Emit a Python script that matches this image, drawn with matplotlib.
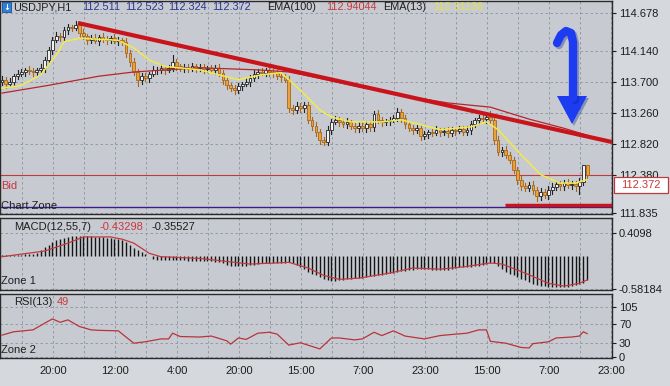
import matplotlib
matplotlib.use("Agg")
import matplotlib.pyplot as plt
from matplotlib.patches import Rectangle, Polygon

plt.rcParams['font.family'] = ['Liberation Sans', 'DejaVu Sans']

# ---- data (USDJPY, H1) ----
first_open = 113.70
closes = [113.726, 113.669, 113.697, 113.782, 113.811, 113.839, 113.868, 113.854, 113.839, 113.868,
          113.896, 114.010, 114.152, 114.294, 114.351, 114.337, 114.436, 114.479, 114.465, 114.507,
          114.394, 114.351, 114.294, 114.323, 114.280, 114.337, 114.308, 114.294, 114.323, 114.280,
          114.294, 114.266, 114.109, 113.981, 113.839, 113.726, 113.782, 113.754, 113.811, 113.868,
          113.868, 113.896, 113.868, 113.896, 113.981, 113.925, 113.896, 113.910, 113.882, 113.925,
          113.896, 113.910, 113.882, 113.896, 113.868, 113.896, 113.825, 113.726, 113.655, 113.612,
          113.583, 113.640, 113.669, 113.697, 113.754, 113.811, 113.839, 113.825, 113.868, 113.839,
          113.825, 113.782, 113.768, 113.726, 113.328, 113.299, 113.356, 113.328, 113.370, 113.157,
          113.072, 112.986, 112.873, 112.844, 113.015, 113.129, 113.157, 113.129, 113.100, 113.129,
          113.072, 113.043, 113.072, 113.043, 113.100, 113.058, 113.242, 113.157, 113.129, 113.143,
          113.157, 113.185, 113.271, 113.185, 113.100, 113.043, 113.015, 113.043, 112.930, 112.958,
          112.986, 112.972, 113.015, 112.986, 113.001, 112.972, 113.015, 113.001, 113.029, 112.986,
          113.015, 113.100, 113.157, 113.185, 113.171, 113.200, 113.157, 112.873, 112.702, 112.731,
          112.660, 112.588, 112.446, 112.304, 112.219, 112.191, 112.233, 112.162, 112.077, 112.134,
          112.091, 112.162, 112.205, 112.247, 112.219, 112.262, 112.233, 112.247, 112.219, 112.276,
          112.511, 112.372]
wick_up = [.05, .04, .06, .03, .05, .04, .03, .05, .04, .03, .06, .04,
           .05, .04, .06, .05, .04, .05, .03, .06, .04, .05, .03, .04,
           .05, .03, .06, .04, .03, .05, .04, .03, .05, .04, .06, .05,
           .04, .05, .03, .05, .04, .06, .03, .04, .10, .05, .03, .04,
           .05, .04, .03, .05, .04, .03, .05, .04, .06, .05, .04, .03,
           .04, .05, .03, .06, .04, .05, .04, .06, .03, .04, .05, .04,
           .03, .04, .05, .04, .06, .05, .04, .05, .04, .06, .05, .04,
           .05, .04, .06, .05, .04, .05, .03, .04, .06, .05, .04, .05,
           .04, .06, .05, .03, .04, .05, .06, .04, .05, .03, .04, .05,
           .04, .05, .03, .04, .05, .03, .04, .05, .04, .03, .05, .04,
           .05, .04, .03, .05, .04, .04, .08, .05, .06, .04, .05, .04,
           .05, .04, .06, .04, .05, .06, .04, .05, .04, .06, .05, .04,
           .05, .04, .06, .05, .04, .06, .012, .012]
wick_dn = [.04, .06, .03, .05, .04, .03, .05, .04, .06, .04, .03, .05,
           .04, .05, .03, .06, .04, .05, .04, .03, .05, .04, .06, .04,
           .03, .05, .04, .06, .04, .03, .05, .04, .06, .05, .04, .08,
           .05, .04, .06, .03, .05, .04, .05, .03, .04, .06, .04, .05,
           .04, .03, .05, .04, .06, .04, .03, .05, .04, .05, .06, .04,
           .05, .04, .06, .03, .05, .04, .05, .03, .04, .05, .06, .04,
           .05, .03, .06, .05, .04, .06, .05, .04, .05, .06, .05, .04,
           .04, .05, .03, .06, .04, .05, .04, .06, .05, .04, .06, .05,
           .05, .04, .06, .04, .05, .03, .04, .06, .05, .04, .06, .04,
           .05, .04, .06, .04, .03, .05, .04, .06, .04, .05, .03, .04,
           .04, .05, .04, .06, .03, .05, .04, .05, .04, .06, .05, .04,
           .04, .06, .05, .04, .05, .06, .07, .05, .04, .06, .05, .04,
           .05, .06, .04, .05, .07, .12, .04, .048]

ema13_idx = [0, 5, 10, 14, 16, 20, 30, 34, 38, 42, 51, 58, 61, 67, 72, 74, 77, 82, 85, 90,
             98, 103, 108, 113, 121, 125, 128, 134, 139, 144, 148, 151]
ema13_val = [113.61, 113.65, 113.80, 114.08, 114.27, 114.32, 114.29, 114.18, 114.01, 113.92,
             113.87, 113.77, 113.73, 113.80, 113.83, 113.73, 113.58, 113.30, 113.20, 113.13,
             113.13, 113.16, 113.09, 113.02, 113.06, 113.13, 113.02, 112.66, 112.38, 112.26,
             112.26, 112.31]
ema100_idx = [0, 12, 25, 34, 51, 66, 74, 82, 92, 103, 115, 126, 136, 145, 151]
ema100_val = [113.54, 113.65, 113.78, 113.84, 113.90, 113.87, 113.84, 113.75, 113.63, 113.51,
              113.40, 113.34, 113.17, 113.04, 112.94]

macd_hist = [0.02, 0.02, 0.02, 0.02, 0.02, 0.02, 0.03, 0.03,
             0.04, 0.05, 0.10, 0.16, 0.19, 0.25, 0.28, 0.30, 0.32, 0.34, 0.35, 0.36,
             0.35, 0.35, 0.35, 0.35, 0.34, 0.34, 0.33, 0.32, 0.32, 0.31, 0.30, 0.28,
             0.25, 0.19, 0.14, 0.11, 0.07, 0.04, 0.01,
             -0.05, -0.06, -0.07, -0.07, -0.07, -0.06, -0.07, -0.07, -0.07, -0.08, -0.08, -0.08,
             -0.08, -0.09, -0.09, -0.09, -0.10, -0.11, -0.13, -0.15, -0.17, -0.18, -0.18, -0.18,
             -0.17, -0.16, -0.15, -0.14, -0.13, -0.13, -0.12, -0.12, -0.12, -0.12, -0.12,
             -0.10, -0.13, -0.16, -0.19, -0.23, -0.28, -0.31, -0.34, -0.37, -0.40, -0.42, -0.44,
             -0.44, -0.43, -0.42, -0.41, -0.40, -0.39, -0.38, -0.38, -0.37, -0.36, -0.35, -0.34,
             -0.33, -0.32, -0.30, -0.29, -0.28, -0.27, -0.26, -0.25, -0.24, -0.23, -0.23, -0.23,
             -0.23, -0.24, -0.24, -0.25, -0.25, -0.24, -0.23, -0.21, -0.20, -0.20, -0.19, -0.19,
             -0.18, -0.17, -0.16, -0.14, -0.12, -0.13, -0.17, -0.22, -0.28, -0.31, -0.34, -0.37,
             -0.40, -0.43, -0.46, -0.49, -0.51, -0.52, -0.53, -0.54, -0.55, -0.55, -0.55, -0.55,
             -0.54, -0.53, -0.51, -0.49, -0.47, -0.43]
signal_idx = [0, 11, 17, 21, 28, 31, 34, 38, 41, 51, 64, 74, 79, 83, 87, 92, 100, 106, 113,
              119, 126, 129, 135, 141, 145, 149, 151]
signal_val = [-0.01, 0.09, 0.23, 0.34, 0.34, 0.30, 0.23, 0.05, -0.01, -0.04, -0.14, -0.11,
              -0.21, -0.34, -0.41, -0.39, -0.30, -0.21, -0.23, -0.19, -0.12, -0.14, -0.30,
              -0.48, -0.53, -0.48, -0.42]

rsi_idx = [0, 3, 8, 11, 13, 15, 17, 20, 23, 25, 30, 34, 37, 41, 43, 44, 46, 51, 54, 58, 59,
           61, 63, 66, 69, 71, 74, 77, 82, 85, 87, 91, 93, 96, 98, 101, 104, 109, 113, 117,
           120, 123, 125, 126, 130, 134, 136, 137, 141, 143, 147, 149, 150, 151]
rsi_val = [46, 53, 57, 71, 80, 73, 78, 64, 57, 56, 55, 29, 32, 38, 38, 50, 43, 42, 44, 34, 27,
           40, 37, 50, 52, 48, 25, 30, 17, 40, 40, 36, 38, 52, 45, 55, 44, 38, 45, 48,
           50, 57, 57, 33, 29, 20, 19, 28, 32, 40, 42, 44, 53, 49]

price_ticks = [114.678, 114.140, 113.700, 113.260, 112.820, 112.380, 111.835]
macd_ticks = [0.4098, -0.58184]
rsi_ticks = [105, 70, 30, 0]
time_labels = ['20:00', '12:00', '4:00', '20:00', '15:00', '7:00', '23:00', '15:00', '7:00', '23:00']

bid = 112.372
chart_zone = 111.916
trend_x, trend_y = [19.6, 157.4], [114.536, 112.844]
support_x, support_y = [129.8, 157.4], [111.942, 111.942]

# ---- figure ----
W, H = 670, 386
fig = plt.figure(figsize=(W / 100, H / 100), dpi=100, facecolor='#d5d8dc')


def box(top, bottom, right=612):
    return [0.0, 1 - bottom / H, right / W, (bottom - top) / H]


def fx(x):
    return x / W


def fy(y):
    return 1 - y / H


panel_bg = '#c7cbd1'
grid_col = '#8b94a1'
dark = '#1e1e1e'
red_txt = '#c8383c'
xlim = (-0.52, 157.4)
label_pos = [13.2 + 16 * k for k in range(len(time_labels))]
grid_pos = [5.2 + 8 * k for k in range(20)]

ax = fig.add_axes(box(1, 214))
ax_m = fig.add_axes(box(218, 290))
ax_r = fig.add_axes(box(294, 358))

for a in (ax, ax_m, ax_r):
    a.set_facecolor(panel_bg)
    a.set_xlim(*xlim)
    a.yaxis.tick_right()
    a.set_xticks(grid_pos)
    a.tick_params(axis='x', length=0, labelbottom=False)
    a.tick_params(axis='y', length=3, direction='out', labelsize=8, colors=dark, pad=2)
    a.grid(True, linestyle=(0, (3, 3)), color=grid_col, lw=0.6)
    for s in a.spines.values():
        s.set_color('#2a2a2a')
        s.set_linewidth(1)

# candles
opens = [first_open] + closes[:-1]
idx = list(range(len(closes)))
for i, o, c, wu, wd in zip(idx, opens, closes, wick_up, wick_dn):
    up = c >= o
    edge = '#222222' if up else '#a8661a'
    face = '#f2f2f2' if up else '#eba23a'
    lo, hi = min(o, c), max(o, c)
    ax.plot([i, i], [lo - wd, hi + wu], color=edge, lw=0.8, zorder=3)
    ax.add_patch(Rectangle((i - 0.36, lo), 0.72, max(hi - lo, 0.006),
                           facecolor=face, edgecolor=edge, lw=0.6, zorder=4))

ax.plot(ema100_idx, ema100_val, color='#b5262c', lw=0.9, zorder=5)
ax.plot(ema13_idx, ema13_val, color='#f2ea4a', lw=1.1, zorder=5)
ax.plot(trend_x, trend_y, color='#c8141a', lw=3, solid_capstyle='butt', zorder=6)
ax.plot(support_x, support_y, color='#c8141a', lw=2.5, solid_capstyle='butt', zorder=6)
ax.axhline(bid, color='#c0393f', lw=0.8, zorder=2)
ax.axhline(chart_zone, color='#3a1e8c', lw=1.0, zorder=2)
ax.set_ylim(111.821, 114.849)
ax.set_yticks(price_ticks)
ax.set_yticklabels([f'{v:.3f}' for v in price_ticks])

# MACD
ax_m.vlines(idx, 0, macd_hist, color='#141414', lw=1.0, zorder=3)
ax_m.plot(signal_idx, signal_val, color='#c0393f', lw=0.9, zorder=4)
ax_m.set_ylim(-0.599, 0.675)
ax_m.set_yticks(macd_ticks)
ax_m.set_yticklabels(['0.4098', '-0.58184'])

# RSI
ax_r.plot(rsi_idx, rsi_val, color='#b8343b', lw=0.9, zorder=3)
ax_r.set_ylim(-2.1, 132.4)
ax_r.set_yticks(rsi_ticks)
ax_r.set_yticklabels([str(v) for v in rsi_ticks])

# time labels under the RSI panel
for pos, lab in zip(label_pos, time_labels):
    xp = (pos - xlim[0]) / (xlim[1] - xlim[0]) * 612
    fig.text(fx(xp), fy(371), lab, ha='center', va='center', fontsize=8, color=dark)

# ---- header and panel texts ----
fig.add_artist(Rectangle((fx(2), fy(12)), 9 / W, 10 / H, transform=fig.transFigure,
                         facecolor='#2f7fd6', edgecolor='#1d4f8f', lw=0.6))
fig.text(fx(6.5), fy(7), '↓', ha='center', va='center', fontsize=6, color='white',
         weight='bold', family='DejaVu Sans')
hdr = dict(ha='left', va='center', fontsize=7.8)
fig.text(fx(13), fy(7), 'USDJPY,H1', color=dark, **hdr)
for xp, t in zip([82, 125, 168, 212], ['112.511', '112.523', '112.324', '112.372']):
    fig.text(fx(xp), fy(7), t, color='#2c3590', **hdr)
fig.text(fx(267), fy(7), 'EMA(100)', color=dark, **hdr)
fig.text(fx(326), fy(7), '112.94044', color=red_txt, **hdr)
fig.text(fx(383), fy(7), 'EMA(13)', color=dark, **hdr)
fig.text(fx(433), fy(7), '112.31136', color='#e4e04a', **hdr)

txt = dict(ha='left', va='center', fontsize=8)
fig.text(fx(1), fy(186), 'Bid', color=red_txt, **txt)
fig.text(fx(1), fy(206), 'Chart Zone', color=dark, **txt)

fig.text(fx(14), fy(227), 'MACD(12,55,7)', color=dark, **txt)
fig.text(fx(100), fy(227), '-0.43298', color=red_txt, **txt)
fig.text(fx(151), fy(227), '-0.35527', color=dark, **txt)
fig.text(fx(1), fy(281), 'Zone 1', color=dark, **txt)

fig.text(fx(14), fy(302), 'RSI(13)', color=dark, **txt)
fig.text(fx(57), fy(302), '49', color=red_txt, **txt)
fig.text(fx(1), fy(350), 'Zone 2', color=dark, **txt)

# ---- overlay: current price box and blue arrow ----
ov = fig.add_axes([0, 0, 1, 1], facecolor='none')
ov.set_xlim(0, W)
ov.set_ylim(H, 0)
ov.axis('off')
ov.add_patch(Rectangle((614, 177), 54, 16, facecolor='white', edgecolor='#c0393f', lw=0.9))
ov.text(641, 185.5, '112.372', ha='center', va='center', fontsize=8, color=red_txt)

hook_x = [557, 561, 566, 571, 573, 573]
hook_y = [43, 35, 31, 33, 42, 98]
ov.plot([x + 2 for x in hook_x], [y + 2 for y in hook_y], color='#0b1f8a', lw=6, alpha=0.35,
        solid_capstyle='round', solid_joinstyle='round')
ov.plot(hook_x, hook_y, color='#1d3cf2', lw=6, solid_capstyle='round', solid_joinstyle='round')
ov.add_patch(Polygon([(559, 98), (589, 98), (574, 126)], closed=True,
                     facecolor='#0b1f8a', edgecolor='none', alpha=0.35))
ov.add_patch(Polygon([(557, 96), (587, 96), (572, 124)], closed=True,
                     facecolor='#1d3cf2', edgecolor='none'))

fig.savefig('out.png', dpi=100, facecolor=fig.get_facecolor())
